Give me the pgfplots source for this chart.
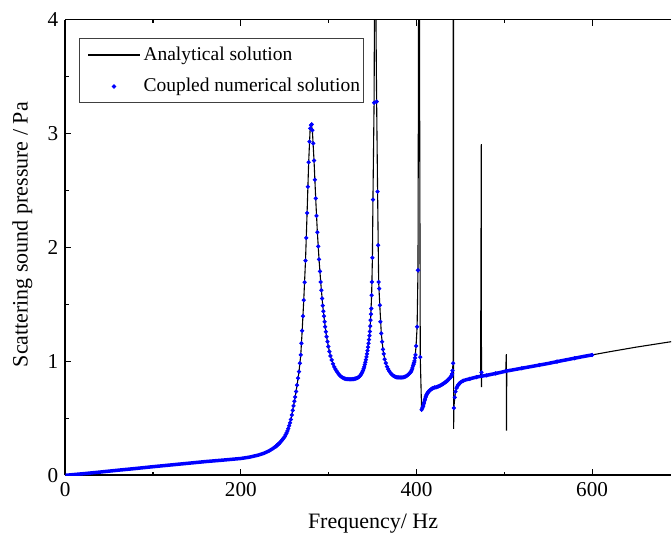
\documentclass[border=0pt]{standalone}
\usepackage{fontspec}
\setmainfont{Liberation Serif}
\usepackage{pgfplots}
\pgfplotsset{compat=1.18}
\pgfplotsset{
  linelegend/.style={legend image code/.code={\path (0pt,0pt); \draw[##1] plot coordinates {(3.85pt,0pt) (29.85pt,0pt)};}},
  dotlegend/.style={legend image code/.code={\path (0pt,0pt) (29.85pt,0pt); \draw[##1] plot coordinates {(16.85pt,0pt)};}},
}
\begin{document}
\begin{tikzpicture}
\begin{axis}[
  name=ax,
  scale only axis,
  width=303.1pt, height=228pt,
  xmin=0, xmax=690, ymin=0, ymax=4,
  axis x line*=box, axis y line*=left,
  clip=true,
  xtick={0,200,400,600},
  ytick={0,1,2,3,4},
  minor xtick={100,300,500},
  minor y tick num=1,
  tick align=inside,
  major tick length=3pt,
  minor tick length=1.8pt,
  every tick/.style={black, line width=0.6pt},
  axis line style={black, line width=0.85pt},
  /pgf/number format/assume math mode=true,
  tick label style={font=\fontsize{10.6}{12}\selectfont},
  xlabel={Frequency/ Hz},
  ylabel={Scattering sound pressure / Pa},
  label style={font=\fontsize{11}{13}\selectfont},
  xlabel style={at={(axis description cs:0.508,-0.106)}, anchor=center},
  ylabel style={at={(axis description cs:-0.071,0.528)}, anchor=center, rotate=0},
  legend style={at={(axis description cs:0.0231,0.959)}, anchor=north west,
    draw=black!75, line width=0.5pt, fill=white,
    font=\fontsize{9.75}{11}\selectfont,
    inner xsep=0pt, inner ysep=2.5pt, row sep=4.5pt,
    nodes={inner sep=1.5pt, text depth=0.15em}},
  legend cell align=left,
]
% Analytical solution
\addplot[black, line width=0.55pt, mark=none, linelegend]
coordinates {
(0,0)(20,0.014)(40,0.029)(60,0.045)(80,0.060)(100,0.076)(120,0.091)(140,0.106)(160,0.121)(180,0.134)(200,0.148)(210,0.160)(220,0.178)(226,0.193)(232,0.214)(236,0.233)(240,0.255)(244,0.283)(247,0.310)(250,0.340)(252,0.372)(254,0.410)(256,0.460)(258,0.530)(260,0.610)(261.8,0.687)(264.0,0.792)(266.2,0.911)(268.2,1.057)(269.8,1.269)(271.6,1.537)(273.6,1.884)(275.4,2.303)(277.2,2.748)(278.9,3.045)(280.2,3.08)(281.4,3.028)(283.3,2.763)(285.2,2.431)(287.1,2.134)(289.0,1.895)(290.9,1.697)(293.2,1.490)(295.3,1.348)(297.6,1.217)(299.6,1.130)(302.0,1.048)(304.9,0.978)(308.8,0.918)(312.4,0.879)(316.0,0.857)(320.8,0.845)(325.6,0.843)(330.4,0.849)(333.8,0.861)(336.6,0.883)(339.0,0.919)(341.1,0.972)(343.0,1.040)(344.8,1.125)(346.4,1.226)(347.7,1.362)(348.9,1.581)(349.8,1.910)(350.4,2.420)(351.7,3.270)(352.2,4.2)(353.0,8)(353.6,4.2)(354.6,3.280)(355.7,2.490)(356.9,1.697)(358.2,1.493)(359.9,1.246)(361.8,1.106)(363.8,1.019)(366.4,0.955)(369.0,0.914)(372.6,0.880)(376.2,0.864)(381.0,0.859)(385.8,0.862)(389.4,0.876)(392.4,0.897)(394.7,0.927)(396.7,0.976)(398.3,1.030)(399.5,1.135)(400.7,1.304)(401.7,1.800)(402.4,4.2)(402.8,12)(403.3,4.2)(404.3,1.037)(405.8,0.576)(407.5,0.606)(409.5,0.664)(411.4,0.707)(413.7,0.734)(416.3,0.753)(418.9,0.766)(422.8,0.774)(426.5,0.786)(430.3,0.803)(434.1,0.824)(436.8,0.845)(438.9,0.862)(440.5,0.891)(441.7,0.984)(441.9,4.2)(442.0,12)(442.1,4.2)(442.3,0.408)(442.5,0.591)(443.6,0.684)(444.5,0.735)(445.5,0.766)(447.4,0.792)(449.3,0.810)(453.1,0.830)(460.7,0.847)(468.3,0.862)(473.0,0.869)(473.8,2.906)(474.0,0.775)(474.3,0.872)(480,0.878)(490,0.894)(501.6,0.913)(502.3,1.063)(502.5,0.393)(502.8,0.915)(510,0.926)(520,0.940)(540,0.968)(560,0.998)(580,1.028)(600,1.057)(620,1.085)(650,1.125)(690,1.173)(700,1.185)
};
\addlegendentry{Analytical solution}
% Coupled numerical solution: dense dots drawn as a thick band where they merge
\addplot[blue, line width=1.75pt, mark=none, forget plot] coordinates {
(0,0)(20,0.014)(40,0.029)(60,0.045)(80,0.060)(100,0.076)(120,0.091)(140,0.106)(160,0.121)(180,0.134)(200,0.148)(210,0.160)(220,0.178)(226,0.193)(232,0.214)(236,0.233)(240,0.255)(244,0.283)
};
\addplot[blue, line width=1.75pt, mark=none, forget plot] coordinates {
(406.5,0.590)(407.5,0.606)(408.5,0.635)(409.5,0.664)(410.5,0.688)(411.4,0.707)(412.5,0.722)(413.7,0.734)(415.0,0.745)(416.3,0.753)(417.6,0.760)(418.9,0.766)(420.8,0.771)(422.8,0.774)(424.6,0.780)(426.5,0.786)(428.4,0.794)(430.3,0.803)(432.2,0.813)(434.1,0.824)(435.5,0.834)(436.8,0.845)(437.9,0.853)(438.9,0.862)(439.8,0.873)(440.5,0.891)
};
\addplot[blue, line width=1.75pt, mark=none, forget plot] coordinates {
(445.5,0.766)(446.5,0.781)(447.4,0.792)(449.3,0.810)(451.2,0.822)(453.1,0.830)(457,0.840)(460.7,0.847)(464.5,0.855)(468.3,0.862)(472,0.868)(476,0.873)(480,0.878)(485,0.886)(490,0.894)(495,0.902)(502,0.915)(510,0.926)(520,0.940)(530,0.954)(540,0.968)(550,0.982)(560,0.998)(570,1.013)(580,1.028)(590,1.043)(600,1.057)
};
\addplot[blue, only marks, mark=*, mark size=0.85pt, dotlegend]
coordinates {
(240,0.255)(241,0.262)(242,0.269)(243,0.276)(244,0.283)(245,0.292)(246,0.301)(247,0.310)(248,0.320)(249,0.330)(250,0.340)(251,0.356)(252,0.372)(253,0.390)(254,0.410)(255,0.435)(256,0.460)(257,0.490)(258,0.530)(259,0.570)(260,0.610)(261,0.650)
(261.8,0.687)(262.9,0.736)(264.0,0.792)(265.1,0.853)(266.2,0.911)(267.2,0.984)(268.2,1.057)(269.0,1.159)(269.8,1.269)(270.7,1.397)(271.6,1.537)(272.6,1.694)(273.6,1.884)(274.5,2.084)(275.4,2.303)(276.2,2.533)(277.2,2.748)(278.1,2.929)(278.9,3.045)(279.8,3.074)(280.6,3.080)(281.4,3.028)(282.4,2.914)(283.3,2.763)(284.3,2.594)(285.2,2.431)(286.1,2.277)(287.1,2.134)(288.1,2.009)(289.0,1.895)(290.0,1.790)(290.9,1.697)(291.7,1.624)(292.5,1.552)(293.2,1.490)(293.9,1.440)(294.6,1.397)(295.3,1.348)(296.0,1.304)(296.8,1.261)(297.6,1.217)(298.6,1.173)(299.6,1.130)(300.8,1.086)(302.0,1.048)(303.4,1.013)(304.9,0.978)(306.4,0.952)(307.6,0.934)(308.8,0.918)(310.0,0.903)(311.2,0.890)(312.4,0.879)(313.6,0.870)(314.8,0.863)(316.0,0.857)(317.2,0.852)(318.4,0.849)(319.6,0.846)(320.8,0.845)(322.0,0.844)(323.2,0.843)(324.4,0.843)(325.6,0.843)(326.8,0.844)(328.0,0.845)(329.2,0.847)(330.4,0.849)(331.6,0.852)(332.8,0.856)(333.8,0.861)(334.8,0.867)(335.7,0.874)(336.6,0.883)(337.4,0.893)(338.2,0.905)(339.0,0.919)(339.7,0.935)(340.4,0.952)(341.1,0.972)(341.8,0.993)(342.4,1.015)(343.0,1.040)(343.6,1.066)(344.2,1.095)(344.8,1.125)(345.4,1.158)(345.9,1.192)(346.4,1.226)(346.9,1.263)(347.3,1.310)(347.7,1.362)(348.1,1.415)(348.5,1.464)(348.9,1.581)(349.3,1.697)(349.8,1.910)(350.4,2.420)(351.7,3.270)(354.6,3.280)(355.7,2.490)(356.3,2.020)(356.9,1.697)(357.5,1.639)(358.2,1.493)(358.9,1.348)(359.9,1.246)(360.8,1.173)(361.8,1.106)(362.7,1.066)(363.8,1.019)(365.1,0.985)(366.4,0.955)(367.7,0.932)(369.0,0.914)(370.2,0.900)(371.4,0.889)(372.6,0.880)(373.8,0.873)(375.0,0.868)(376.2,0.864)(377.4,0.861)(378.6,0.860)(379.8,0.859)(381.0,0.859)(382.2,0.859)(383.4,0.859)(384.6,0.860)(385.8,0.862)(387.0,0.866)(388.2,0.870)(389.4,0.876)(390.5,0.883)(391.5,0.890)(392.4,0.897)(393.2,0.905)(394.0,0.915)(394.7,0.927)(395.4,0.942)(396.1,0.961)(396.7,0.976)(397.2,0.990)(397.7,1.004)(398.3,1.030)(398.8,1.057)(399.5,1.135)(400.7,1.304)(401.7,1.800)(404.3,1.037)
(405.8,0.576)(406.5,0.590)(407.5,0.606)(408.5,0.635)(409.5,0.664)(410.5,0.688)(411.4,0.707)(412.5,0.722)(413.7,0.734)(415.0,0.745)(416.3,0.753)(417.6,0.760)(418.9,0.766)(420.8,0.771)(422.8,0.774)(424.6,0.780)(426.5,0.786)(428.4,0.794)(430.3,0.803)(432.2,0.813)(434.1,0.824)(435.5,0.834)(436.8,0.845)(437.9,0.853)(438.9,0.862)(439.8,0.873)(440.5,0.891)(441.0,0.920)(441.7,0.984)
(442.5,0.591)(443.6,0.684)(444.5,0.735)(445.5,0.766)(447.4,0.792)(449.3,0.810)(453.1,0.830)(460.7,0.847)(468.3,0.862)(474.0,0.903)(480,0.878)(490,0.894)(502,0.915)(520,0.940)(540,0.968)(560,0.998)(580,1.028)(600,1.057)
};
\addlegendentry{Coupled numerical solution}
\end{axis}
\path ([xshift=-32.65pt,yshift=-29.7pt]ax.south west) rectangle ([yshift=9.8pt]ax.north east);
\end{tikzpicture}
\end{document}
